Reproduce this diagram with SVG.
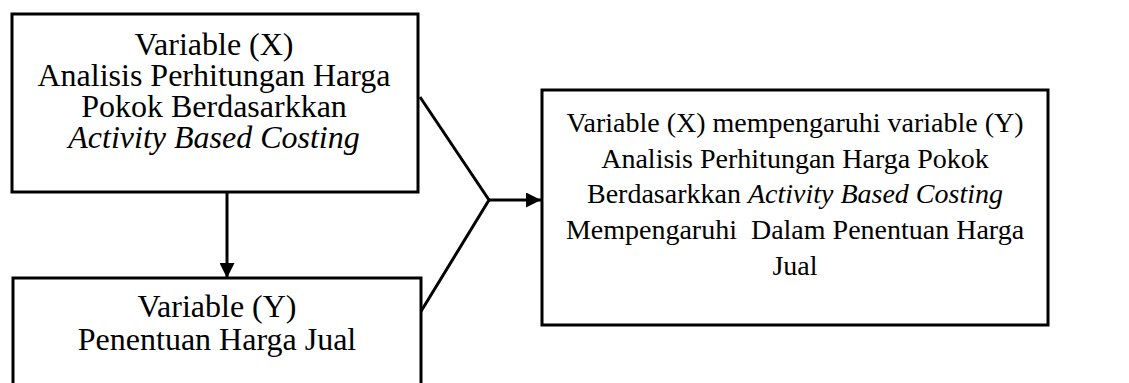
<svg xmlns="http://www.w3.org/2000/svg" width="1129" height="383" viewBox="0 0 1129 383">
<style>
.box{fill:#fff;stroke:#000;stroke-width:3}
.t{font-family:"Liberation Serif","Times New Roman",serif;fill:#000;text-anchor:middle}
.l{font-size:32px}
.r{font-size:28px}
.i{font-style:italic}
.c{fill:none;stroke:#000;stroke-width:3;stroke-linejoin:miter}
</style>
<defs>
<marker id="ah" viewBox="0 0 10 10" refX="10" refY="5" markerWidth="5.5" markerHeight="5" markerUnits="strokeWidth" orient="auto">
<path d="M0,0 L10,5 L0,10 Z" fill="#000"/>
</marker>
</defs>
<rect width="1129" height="383" fill="#fff"/>
<g id="connectors">
<line class="c" x1="227" y1="192" x2="227" y2="278" marker-end="url(#ah)"/>
<polyline class="c" points="420,97 489,200 420,313"/>
<line class="c" x1="489" y1="200" x2="541" y2="200" marker-end="url(#ah)"/>
</g>
<g id="nodeX">
<rect class="box" x="12" y="14" width="406" height="178"/>
<text class="t l" x="214" y="55">Variable (X)</text>
<text class="t l" x="214" y="86">Analisis Perhitungan Harga</text>
<text class="t l" x="214" y="117">Pokok Berdasarkkan</text>
<text class="t l i" x="214" y="148">Activity Based Costing</text>
</g>
<g id="nodeY">
<rect class="box" x="13" y="278" width="408" height="115"/>
<text class="t l" x="217" y="317">Variable (Y)</text>
<text class="t l" x="217" y="350">Penentuan Harga Jual</text>
</g>
<g id="nodeResult">
<rect class="box" x="542" y="90" width="506" height="235"/>
<text class="t r" x="795" y="132">Variable (X) mempengaruhi variable (Y)</text>
<text class="t r" x="795" y="168">Analisis Perhitungan Harga Pokok</text>
<text class="t r" x="795" y="203">Berdasarkkan <tspan class="i">Activity Based Costing</tspan></text>
<text class="t r" x="795" y="239" xml:space="preserve">Mempengaruhi  Dalam Penentuan Harga</text>
<text class="t r" x="795" y="275">Jual</text>
</g>
</svg>
